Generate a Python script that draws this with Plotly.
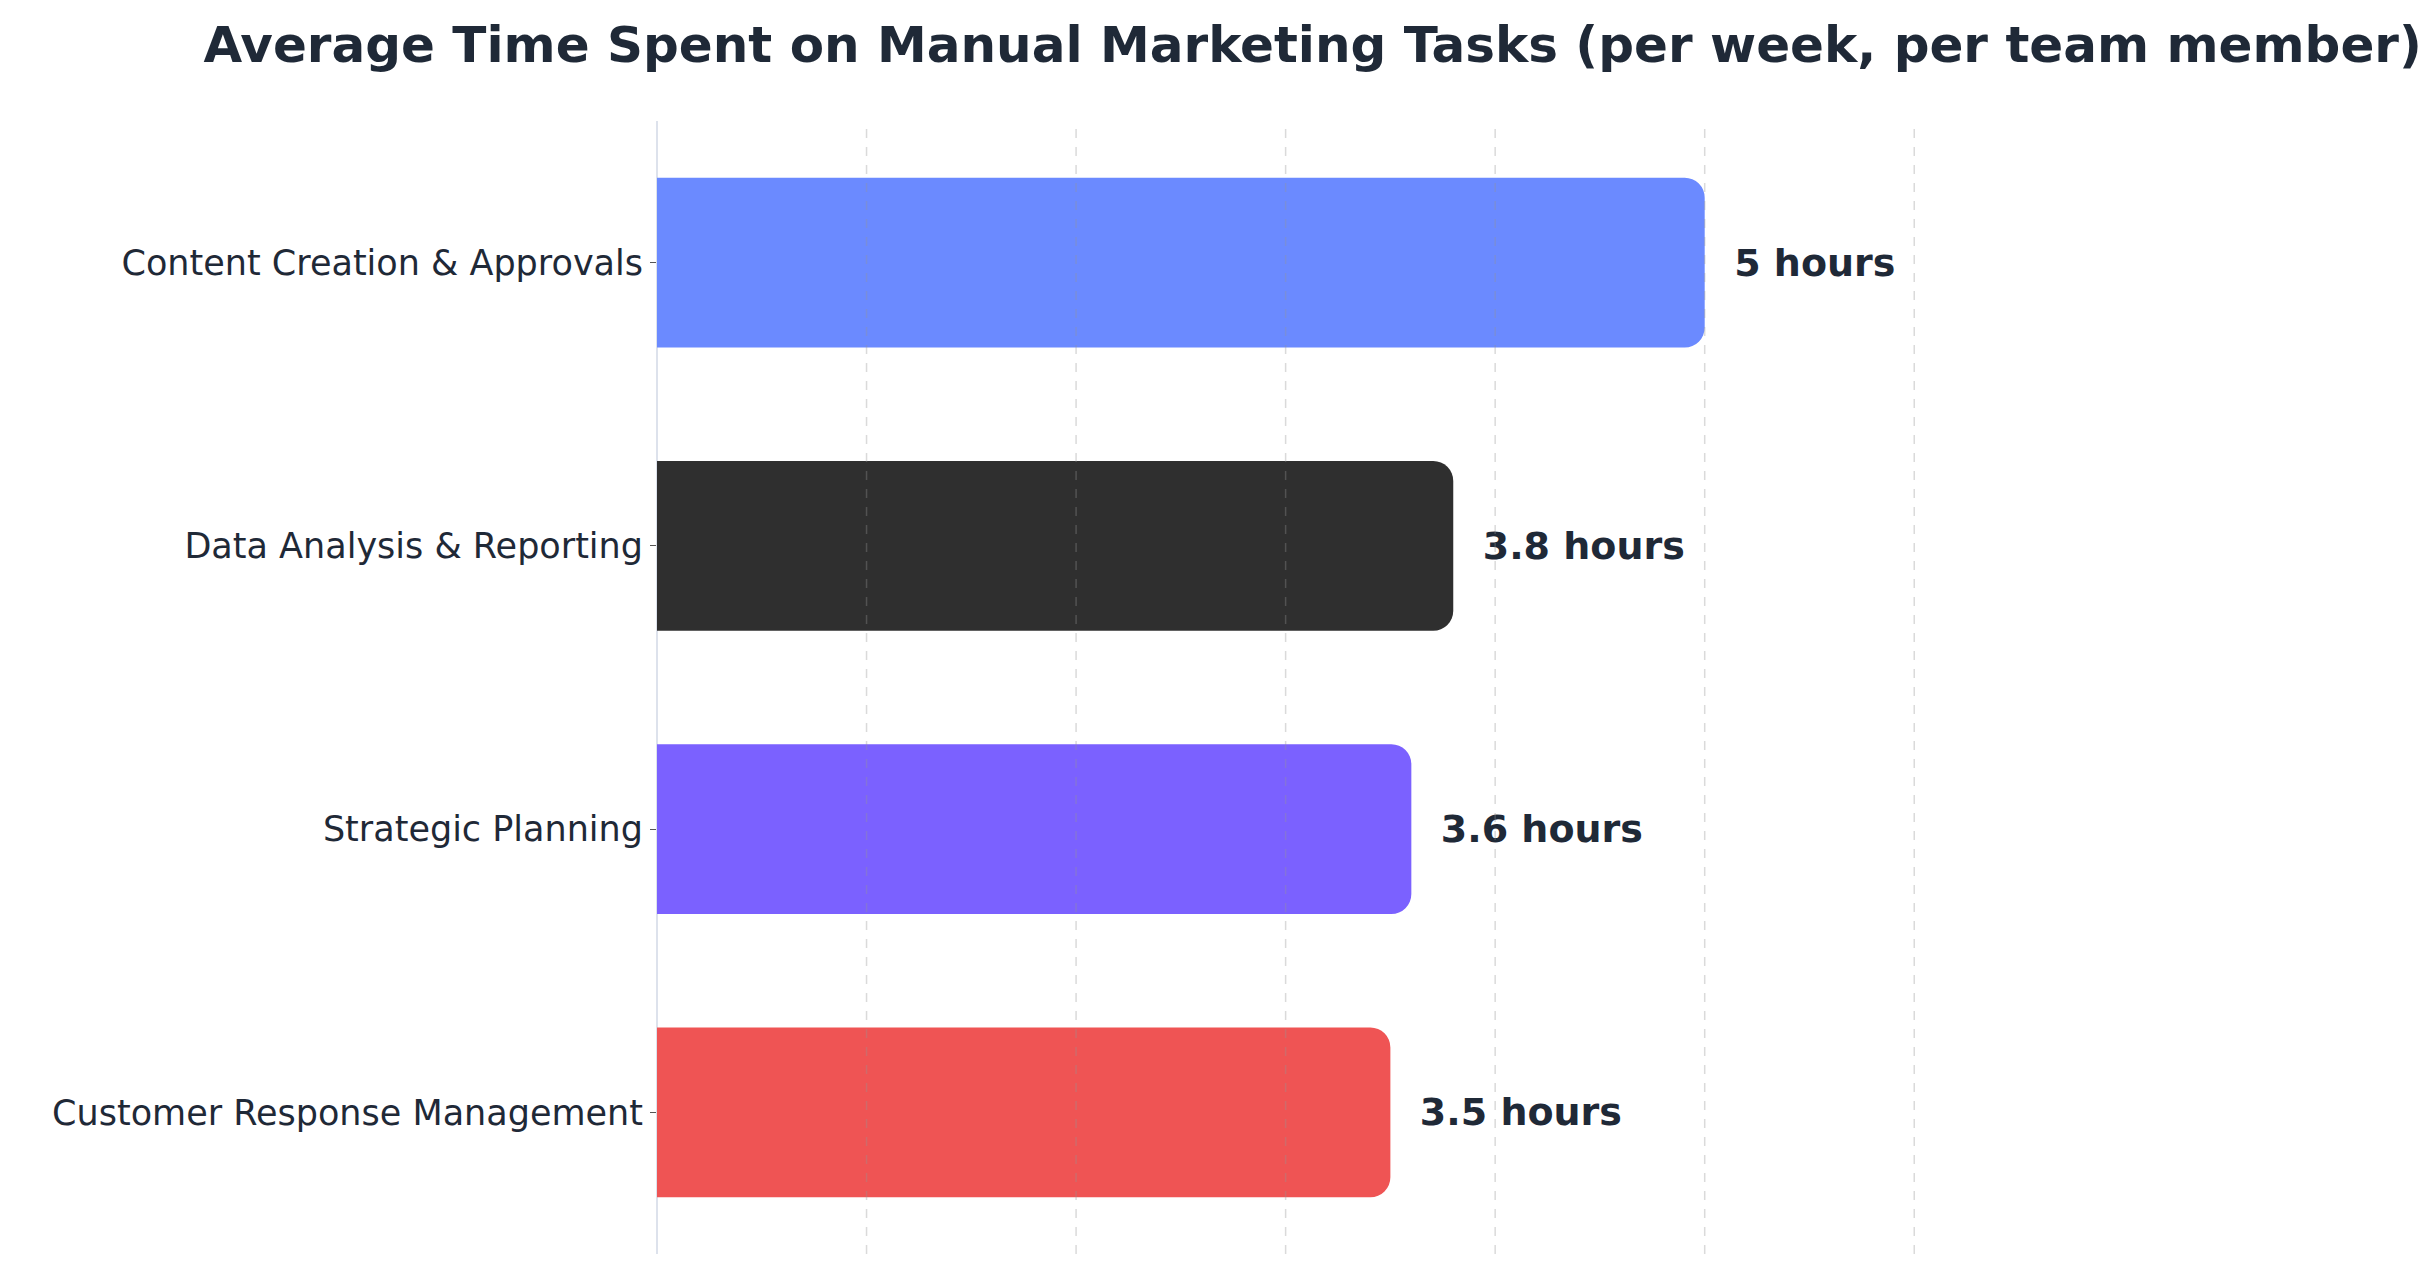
import plotly.graph_objects as go

tasks = ["Content Creation & Approvals", "Data Analysis & Reporting", "Strategic Planning", "Customer Response Management"]
hours = [5, 3.8, 3.6, 3.5]
labels = ["5 hours", "3.8 hours", "3.6 hours", "3.5 hours"]
colors = ["#6B8AFF", "#2F2F2F", "#7B61FF", "#EF5454"]
grid_ticks = [1, 2, 3, 4, 5, 6]

fig = go.Figure(go.Bar(
    y=tasks, x=hours, orientation="h", width=0.6,
    marker=dict(color=colors, line=dict(width=0)),
    text=["  " + t for t in labels], textposition="outside",
    textfont=dict(family="DejaVu Sans", size=38, color="#1F2937", weight="bold"),
    cliponaxis=False,
))
for g in grid_ticks:
    fig.add_vline(x=g, line=dict(color="rgba(150,150,150,0.35)", width=1.5, dash="dash"), layer="above")
fig.update_layout(
    width=2434, height=1268, plot_bgcolor="white", paper_bgcolor="white",
    margin=dict(l=649, r=423, t=113, b=22),
    barcornerradius=20, showlegend=False,
    title=dict(text="<b>Average Time Spent on Manual Marketing Tasks (per week, per team member)</b>",
               x=0.536, xref="container", xanchor="center", y=0.985, yanchor="top",
               font=dict(family="DejaVu Sans", size=50, color="#1F2937")),
)
fig.update_xaxes(range=[0, 6.5], dtick=1, showticklabels=False, showgrid=False,
                 zeroline=True, zerolinecolor="#DDE2EC", zerolinewidth=2)
fig.update_yaxes(autorange="reversed", tickfont=dict(family="DejaVu Sans", size=35, color="#1F2937"),
                 ticks="outside", ticklen=6, tickcolor="#555", showgrid=False)
fig.write_html("out.html")
